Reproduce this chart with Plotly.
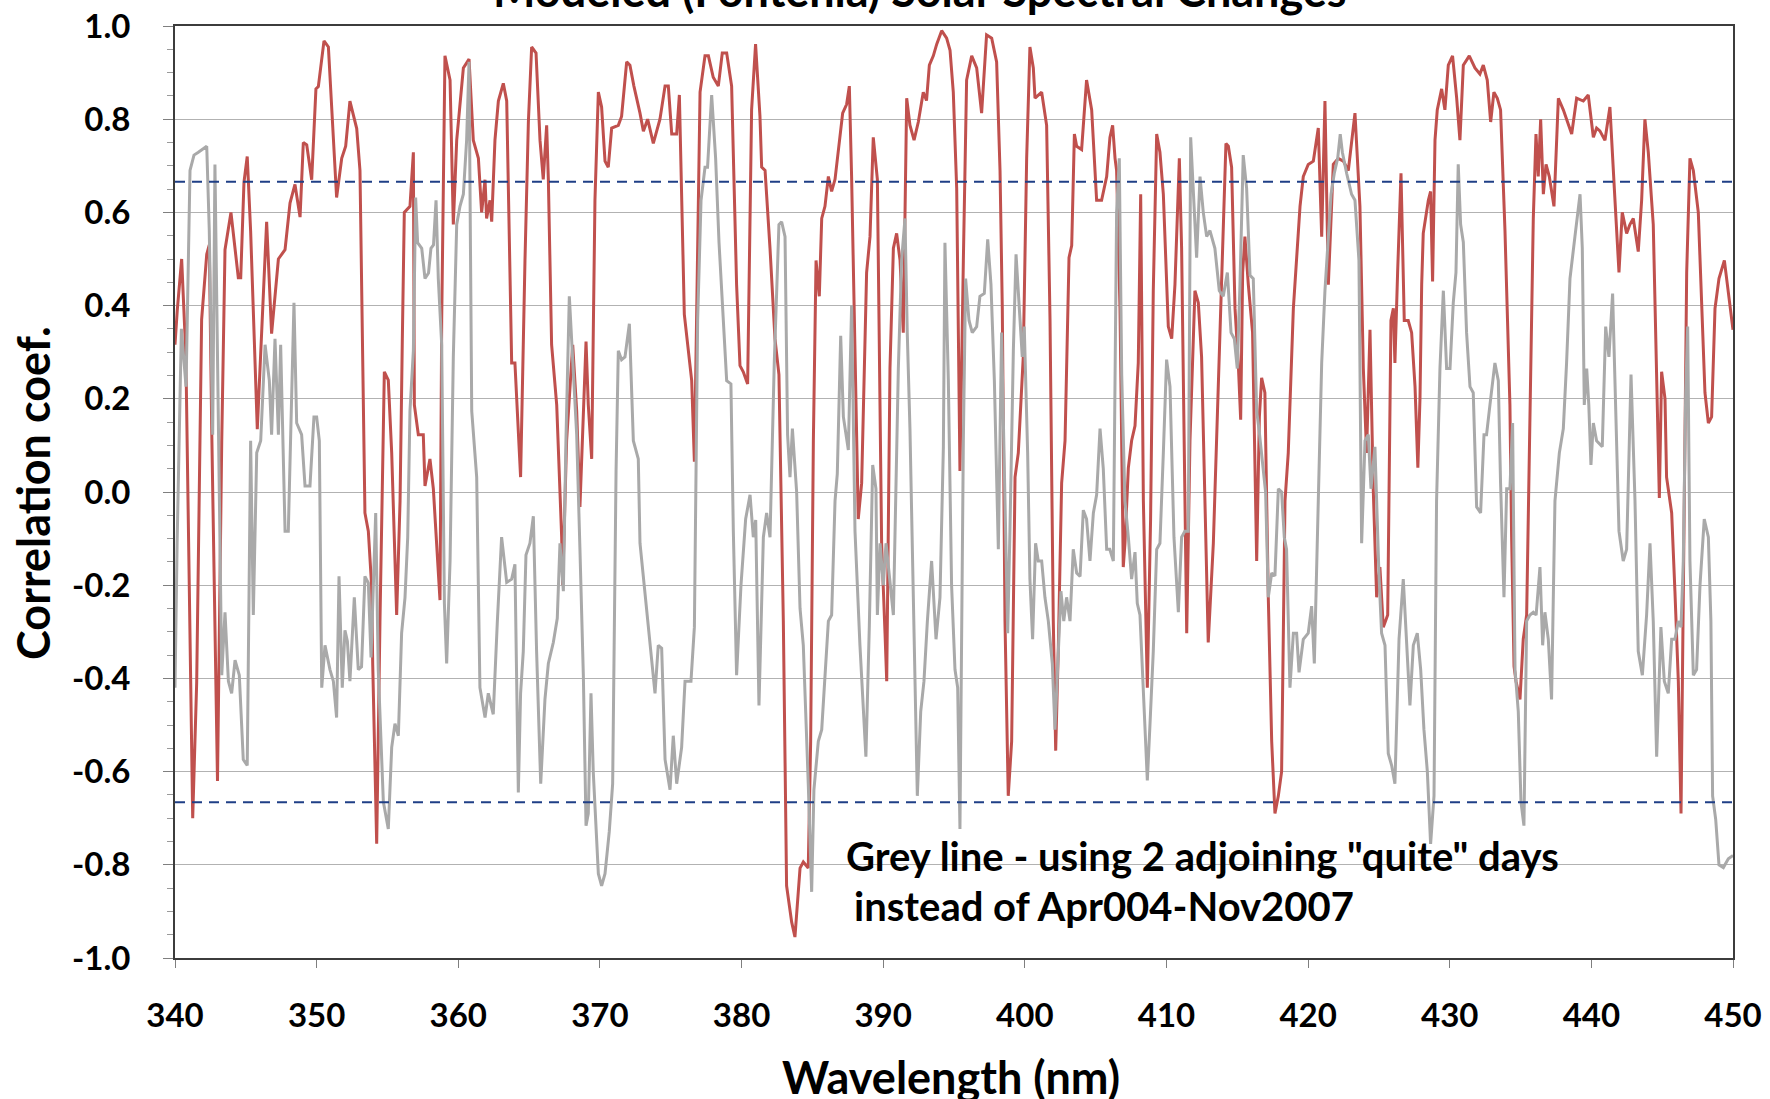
import plotly.graph_objects as go

# Correlation coefficient vs wavelength: (wavelength nm, r) pairs
RED_POINTS = [
    (340.0, 0.316), (340.16, 0.39), (340.47, 0.50), (340.7, 0.34), (340.8, 0.226),
    (341.25, -0.70), (341.53, -0.41), (341.88, 0.37), (342.24, 0.51), (342.42, 0.53),
    (342.6, 0.12), (343.0, -0.62), (343.3, 0.11), (343.53, 0.52), (343.95, 0.60),
    (344.47, 0.46), (344.64, 0.46), (344.87, 0.665), (345.1, 0.72), (345.34, 0.56),
    (345.81, 0.135), (346.47, 0.58), (346.82, 0.34), (347.3, 0.50), (347.77, 0.52),
    (348.12, 0.62), (348.47, 0.66), (348.83, 0.59), (349.06, 0.75), (349.3, 0.745),
    (349.65, 0.67), (349.95, 0.865), (350.12, 0.87), (350.52, 0.968), (350.83, 0.955),
    (351.06, 0.82), (351.41, 0.632), (351.77, 0.716), (352.05, 0.742), (352.35, 0.839),
    (352.83, 0.78), (353.06, 0.69), (353.41, -0.045), (353.65, -0.084), (353.88, -0.20),
    (353.96, -0.37), (354.24, -0.755), (354.47, -0.28), (354.78, 0.258), (355.06, 0.24),
    (355.3, 0.084), (355.65, -0.264), (355.89, -0.019), (356.05, 0.329), (356.19, 0.60),
    (356.59, 0.613), (356.83, 0.729), (356.9, 0.187), (357.18, 0.123), (357.53, 0.123),
    (357.65, 0.013), (358.0, 0.071), (358.24, 0.007), (358.71, -0.232), (358.83, 0.368),
    (359.06, 0.936), (359.42, 0.884), (359.65, 0.574), (359.89, 0.755), (360.36, 0.91),
    (360.76, 0.929), (361.06, 0.755), (361.42, 0.716), (361.65, 0.60), (361.89, 0.67),
    (362.0, 0.587), (362.24, 0.626), (362.36, 0.58), (362.59, 0.755), (362.83, 0.839),
    (363.18, 0.877), (363.42, 0.839), (363.77, 0.277), (364.0, 0.277), (364.4, 0.032),
    (364.71, 0.497), (364.95, 0.794), (365.18, 0.955), (365.49, 0.942), (365.77, 0.755),
    (366.0, 0.671), (366.24, 0.787), (366.36, 0.671), (366.59, 0.316), (366.95, 0.187),
    (367.3, -0.097), (367.37, -0.20), (367.65, 0.11), (368.08, 0.316), (368.36, 0.174),
    (368.59, -0.032), (369.02, 0.323), (369.18, 0.187), (369.42, 0.071), (369.65, 0.626),
    (369.89, 0.858), (370.12, 0.826), (370.36, 0.71), (370.59, 0.697), (370.83, 0.781),
    (371.3, 0.787), (371.53, 0.806), (371.89, 0.923), (372.12, 0.916), (372.4, 0.871),
    (372.83, 0.813), (373.07, 0.774), (373.37, 0.80), (373.77, 0.748), (374.24, 0.80),
    (374.6, 0.871), (374.83, 0.871), (375.07, 0.768), (375.42, 0.768), (375.61, 0.852),
    (375.96, 0.381), (376.29, 0.29), (376.48, 0.239), (376.67, 0.065), (377.07, 0.858),
    (377.42, 0.936), (377.66, 0.936), (378.0, 0.89), (378.36, 0.871), (378.64, 0.942),
    (378.95, 0.942), (379.3, 0.871), (379.65, 0.445), (379.89, 0.271), (380.12, 0.258),
    (380.43, 0.232), (380.71, 0.82), (380.99, 0.961), (381.3, 0.806), (381.42, 0.697),
    (381.66, 0.69), (382.01, 0.523), (382.36, 0.329), (382.64, 0.252), (382.95, -0.277),
    (383.18, -0.845), (383.54, -0.923), (383.77, -0.955), (384.13, -0.807), (384.36, -0.794),
    (384.71, -0.807), (384.88, -0.535), (385.07, 0.11), (385.26, 0.497), (385.49, 0.42),
    (385.66, 0.587), (385.89, 0.613), (386.13, 0.677), (386.36, 0.645), (386.6, 0.671),
    (386.9, 0.755), (387.14, 0.813), (387.42, 0.832), (387.61, 0.871), (387.77, 0.677),
    (388.24, -0.058), (388.48, 0.019), (388.83, 0.471), (389.07, 0.548), (389.3, 0.761),
    (389.59, 0.671), (389.89, -0.11), (390.13, -0.303), (390.25, -0.406), (390.48, 0.265),
    (390.72, 0.523), (390.95, 0.555), (391.19, 0.497), (391.42, 0.342), (391.66, 0.845),
    (391.89, 0.787), (392.18, 0.755), (392.48, 0.794), (392.83, 0.858), (393.06, 0.84),
    (393.26, 0.916), (393.54, 0.936), (393.78, 0.961), (394.13, 0.99), (394.48, 0.974),
    (394.72, 0.948), (394.95, 0.858), (395.19, 0.652), (395.42, 0.045), (395.66, 0.497),
    (395.89, 0.884), (396.25, 0.936), (396.6, 0.91), (396.95, 0.813), (397.3, 0.981),
    (397.66, 0.974), (398.01, 0.923), (398.25, 0.69), (398.41, 0.394), (398.6, -0.277),
    (398.83, -0.652), (399.07, -0.535), (399.31, 0.032), (399.54, 0.084), (399.89, 0.29),
    (400.13, 0.716), (400.36, 0.955), (400.6, 0.91), (400.72, 0.845), (401.19, 0.858),
    (401.54, 0.787), (401.78, 0.368), (402.01, -0.277), (402.18, -0.555), (402.36, -0.342),
    (402.6, 0.019), (402.84, 0.11), (403.12, 0.503), (403.31, 0.529), (403.5, 0.768),
    (403.66, 0.742), (404.01, 0.735), (404.36, 0.884), (404.72, 0.82), (405.07, 0.626),
    (405.42, 0.626), (405.78, 0.677), (406.01, 0.761), (406.2, 0.787), (406.37, 0.716),
    (406.48, 0.69), (406.72, 0.394), (406.95, -0.161), (407.07, -0.11), (407.31, 0.052),
    (407.54, 0.11), (407.78, 0.142), (408.01, 0.277), (408.18, 0.639), (408.37, -0.019),
    (408.65, -0.42), (408.88, -0.058), (409.07, 0.432), (409.31, 0.768), (409.54, 0.729),
    (409.78, 0.639), (410.13, 0.355), (410.37, 0.329), (410.6, 0.445), (410.91, 0.716),
    (411.07, 0.523), (411.43, -0.303), (411.66, 0.11), (412.01, 0.432), (412.25, 0.406),
    (412.48, 0.29), (412.72, -0.019), (412.95, -0.323), (413.31, -0.11), (413.54, 0.11),
    (413.78, 0.381), (414.01, 0.587), (414.2, 0.748), (414.37, 0.742), (414.6, 0.697),
    (414.84, 0.394), (415.07, 0.277), (415.24, 0.155), (415.38, 0.471), (415.54, 0.548),
    (415.78, 0.445), (416.08, 0.342), (416.37, -0.148), (416.56, 0.161), (416.72, 0.245),
    (416.95, 0.213), (417.19, -0.226), (417.43, -0.535), (417.66, -0.69), (417.9, -0.652),
    (418.13, -0.6), (418.37, -0.019), (418.6, 0.084), (418.96, 0.394), (419.19, 0.503),
    (419.43, 0.613), (419.66, 0.677), (420.01, 0.703), (420.37, 0.71), (420.72, 0.781),
    (420.96, 0.548), (421.19, 0.839), (421.43, 0.445), (421.78, 0.703), (422.13, 0.716),
    (422.49, 0.71), (422.84, 0.69), (423.31, 0.813), (423.66, 0.613), (423.9, 0.265),
    (424.13, 0.084), (424.37, 0.348), (424.6, 0.007), (424.84, -0.226), (425.07, -0.161),
    (425.31, -0.29), (425.62, -0.264), (425.85, 0.368), (426.02, 0.394), (426.13, 0.277),
    (426.32, 0.471), (426.56, 0.684), (426.79, 0.368), (427.07, 0.368), (427.31, 0.342),
    (427.55, 0.226), (427.75, 0.052), (427.9, 0.2), (428.02, 0.445), (428.13, 0.555),
    (428.49, 0.626), (428.65, 0.645), (428.79, 0.452), (428.96, 0.755), (429.12, 0.82),
    (429.43, 0.865), (429.66, 0.82), (429.9, 0.916), (430.2, 0.936), (430.49, 0.845),
    (430.72, 0.755), (430.96, 0.916), (431.38, 0.936), (431.78, 0.91), (432.13, 0.897),
    (432.37, 0.916), (432.65, 0.884), (432.89, 0.794), (433.12, 0.858), (433.36, 0.845),
    (433.59, 0.82), (433.9, 0.561), (434.25, 0.187), (434.37, -0.097), (434.54, -0.374),
    (434.68, -0.406), (434.96, -0.445), (435.19, -0.316), (435.43, -0.264), (435.62, 0.11),
    (435.9, 0.587), (436.09, 0.768), (436.25, 0.677), (436.42, 0.80), (436.61, 0.639),
    (436.8, 0.703), (437.03, 0.677), (437.36, 0.613), (437.67, 0.845), (438.02, 0.82),
    (438.37, 0.787), (438.61, 0.768), (438.96, 0.845), (439.43, 0.839), (439.78, 0.852),
    (440.14, 0.761), (440.37, 0.781), (440.6, 0.775), (440.96, 0.755), (441.31, 0.826),
    (441.62, 0.652), (441.95, 0.471), (442.18, 0.6), (442.49, 0.555), (442.72, 0.574),
    (442.96, 0.587), (443.31, 0.516), (443.55, 0.626), (443.78, 0.8), (444.02, 0.729),
    (444.37, 0.574), (444.61, 0.226), (444.8, -0.013), (444.96, 0.258), (445.2, 0.2),
    (445.31, 0.032), (445.67, -0.045), (445.9, -0.213), (446.14, -0.406), (446.33, -0.69),
    (446.49, -0.277), (446.73, 0.471), (446.96, 0.716), (447.2, 0.69), (447.55, 0.6),
    (447.79, 0.394), (448.02, 0.213), (448.26, 0.148), (448.49, 0.161), (448.73, 0.394),
    (449.01, 0.458), (449.39, 0.497), (449.67, 0.432), (450.0, 0.348),
]

GREY_POINTS = [
    (340.0, -0.42), (340.15, -0.11), (340.45, 0.35), (340.78, 0.226), (341.06, 0.69),
    (341.34, 0.723), (341.65, 0.729), (341.9, 0.735), (342.24, 0.742), (342.42, 0.561),
    (342.66, 0.123), (342.82, 0.703), (343.06, 0.11), (343.3, -0.393), (343.53, -0.258),
    (343.77, -0.406), (344.0, -0.432), (344.24, -0.361), (344.54, -0.393), (344.82, -0.574),
    (345.1, -0.587), (345.34, 0.11), (345.53, -0.264), (345.77, 0.084), (346.05, 0.11),
    (346.36, 0.316), (346.66, 0.239), (346.82, 0.123), (347.06, 0.329), (347.3, 0.123),
    (347.46, 0.316), (347.77, -0.084), (348.0, -0.084), (348.24, 0.213), (348.4, 0.406),
    (348.59, 0.148), (348.94, 0.123), (349.18, 0.013), (349.53, 0.013), (349.81, 0.161),
    (350.0, 0.161), (350.19, 0.11), (350.36, -0.42), (350.59, -0.329), (350.94, -0.381),
    (351.18, -0.406), (351.41, -0.484), (351.58, -0.181), (351.81, -0.42), (352.0, -0.297),
    (352.17, -0.32), (352.35, -0.406), (352.66, -0.226), (352.94, -0.381), (353.17, -0.375),
    (353.41, -0.181), (353.65, -0.195), (353.84, -0.355), (354.17, -0.045), (354.35, -0.381),
    (354.71, -0.665), (355.06, -0.723), (355.3, -0.548), (355.53, -0.497), (355.77, -0.523),
    (356.0, -0.303), (356.24, -0.226), (356.43, -0.097), (356.59, 0.174), (356.83, 0.303),
    (356.99, 0.632), (357.13, 0.535), (357.42, 0.523), (357.65, 0.458), (357.9, 0.47),
    (358.07, 0.523), (358.25, 0.53), (358.43, 0.626), (358.59, 0.458), (358.83, 0.316),
    (359.02, -0.239), (359.18, -0.368), (359.42, -0.148), (359.65, 0.29), (359.89, 0.574),
    (360.12, 0.613), (360.36, 0.639), (360.59, 0.755), (360.76, 0.923), (360.95, 0.174),
    (361.3, 0.032), (361.53, -0.42), (361.89, -0.484), (362.12, -0.432), (362.47, -0.477),
    (362.76, -0.277), (363.06, -0.097), (363.42, -0.194), (363.77, -0.187), (364.0, -0.155),
    (364.24, -0.645), (364.4, -0.432), (364.59, -0.342), (364.78, -0.135), (365.06, -0.11),
    (365.3, -0.052), (365.53, -0.342), (365.82, -0.626), (366.12, -0.445), (366.36, -0.368),
    (366.71, -0.323), (366.99, -0.271), (367.18, -0.11), (367.42, -0.213), (367.6, 0.11),
    (367.84, 0.42), (368.08, 0.29), (368.36, 0.123), (368.59, -0.123), (368.83, -0.393),
    (369.02, -0.716), (369.18, -0.69), (369.37, -0.432), (369.53, -0.6), (369.89, -0.819),
    (370.12, -0.845), (370.36, -0.819), (370.66, -0.729), (370.9, -0.626), (371.14, 0.045),
    (371.3, 0.303), (371.53, 0.284), (371.77, 0.29), (372.08, 0.361), (372.36, 0.11),
    (372.71, 0.071), (372.83, -0.11), (373.18, -0.213), (373.54, -0.316), (373.89, -0.432),
    (374.12, -0.329), (374.36, -0.335), (374.6, -0.574), (374.95, -0.639), (375.18, -0.523),
    (375.42, -0.626), (375.77, -0.548), (376.01, -0.406), (376.43, -0.406), (376.67, -0.29),
    (376.9, 0.368), (377.14, 0.626), (377.42, 0.697), (377.6, 0.697), (377.89, 0.852),
    (378.17, 0.716), (378.41, 0.535), (378.64, 0.406), (378.95, 0.239), (379.25, 0.232),
    (379.42, -0.084), (379.65, -0.393), (379.96, -0.2), (380.29, -0.058), (380.6, -0.006),
    (380.83, -0.097), (381.0, -0.06), (381.23, -0.458), (381.54, -0.097), (381.77, -0.045),
    (382.01, -0.097), (382.31, 0.277), (382.64, 0.574), (382.83, 0.58), (383.07, 0.548),
    (383.25, 0.123), (383.42, 0.032), (383.59, 0.136), (383.89, 0.0), (384.13, -0.25),
    (384.36, -0.329), (384.71, -0.626), (384.95, -0.858), (385.11, -0.639), (385.42, -0.535),
    (385.66, -0.51), (385.89, -0.406), (386.13, -0.277), (386.36, -0.264), (386.6, -0.019),
    (386.76, 0.039), (387.0, 0.335), (387.19, 0.161), (387.54, 0.09), (387.77, 0.4),
    (388.01, -0.084), (388.36, -0.329), (388.78, -0.568), (389.02, -0.29), (389.26, 0.058),
    (389.49, 0.007), (389.59, -0.264), (389.78, -0.11), (390.01, -0.2), (390.2, -0.11),
    (390.48, -0.2), (390.72, -0.264), (391.07, 0.265), (391.3, 0.497), (391.54, 0.587),
    (391.7, 0.342), (391.89, 0.136), (392.13, -0.2), (392.41, -0.652), (392.65, -0.471),
    (392.88, -0.406), (393.12, -0.277), (393.42, -0.148), (393.73, -0.316), (394.01, -0.226),
    (394.25, 0.097), (394.36, 0.535), (394.6, 0.24), (394.83, -0.2), (395.07, -0.381),
    (395.26, -0.42), (395.42, -0.723), (395.66, 0.11), (395.82, 0.458), (396.06, 0.368),
    (396.29, 0.342), (396.6, 0.355), (396.83, 0.42), (397.14, 0.426), (397.38, 0.542),
    (397.61, 0.445), (397.85, 0.239), (398.13, -0.123), (398.36, 0.342), (398.55, 0.019),
    (398.79, -0.303), (398.95, -0.084), (399.19, 0.303), (399.38, 0.51), (399.59, 0.406),
    (399.82, 0.29), (399.96, 0.355), (400.2, 0.084), (400.36, -0.187), (400.55, -0.316),
    (400.76, -0.11), (400.95, -0.148), (401.19, -0.148), (401.42, -0.226), (401.66, -0.277),
    (401.94, -0.368), (402.13, -0.51), (402.36, -0.342), (402.55, -0.213), (402.75, -0.277),
    (402.95, -0.226), (403.19, -0.277), (403.42, -0.123), (403.66, -0.174), (403.9, -0.181),
    (404.13, -0.039), (404.36, -0.058), (404.6, -0.148), (404.84, -0.045), (405.07, -0.006),
    (405.31, 0.136), (405.54, 0.05), (405.78, -0.123), (406.0, -0.123), (406.25, -0.148),
    (406.48, 0.6), (406.67, 0.716), (406.84, 0.252), (407.07, -0.019), (407.31, -0.097),
    (407.54, -0.187), (407.78, -0.129), (407.94, -0.239), (408.13, -0.264), (408.37, -0.432),
    (408.65, -0.619), (408.84, -0.497), (409.07, -0.342), (409.31, -0.123), (409.54, -0.11),
    (409.78, 0.084), (410.01, 0.284), (410.25, 0.226), (410.53, -0.097), (410.84, -0.258),
    (411.07, -0.097), (411.3, -0.084), (411.54, -0.084), (411.71, 0.761), (411.94, 0.6),
    (412.13, 0.503), (412.37, 0.677), (412.6, 0.6), (412.84, 0.548), (413.07, 0.561),
    (413.42, 0.523), (413.73, 0.432), (414.01, 0.42), (414.3, 0.471), (414.56, 0.342),
    (414.79, 0.329), (415.0, 0.265), (415.19, 0.445), (415.42, 0.723), (415.66, 0.652),
    (415.9, 0.465), (416.13, 0.458), (416.37, 0.174), (416.55, 0.13), (417.0, 0.0),
    (417.19, -0.226), (417.43, -0.174), (417.66, -0.18), (417.9, 0.007), (418.13, 0.0),
    (418.32, -0.097), (418.48, -0.123), (418.72, -0.42), (418.96, -0.303), (419.19, -0.303),
    (419.36, -0.387), (419.66, -0.316), (420.01, -0.303), (420.25, -0.245), (420.44, -0.368),
    (420.72, -0.019), (420.96, 0.277), (421.19, 0.432), (421.38, 0.523), (421.62, 0.639),
    (421.85, 0.684), (422.09, 0.716), (422.27, 0.768), (422.42, 0.729), (422.72, 0.684),
    (423.07, 0.639), (423.31, 0.626), (423.59, 0.497), (423.78, -0.11), (424.02, 0.11),
    (424.25, 0.123), (424.44, 0.007), (424.72, 0.097), (425.0, -0.174), (425.19, -0.303),
    (425.43, -0.329), (425.66, -0.561), (425.9, -0.587), (426.13, -0.626), (426.42, -0.316),
    (426.72, -0.187), (426.96, -0.342), (427.19, -0.458), (427.43, -0.329), (427.71, -0.303),
    (427.95, -0.381), (428.18, -0.51), (428.42, -0.6), (428.65, -0.755), (428.89, -0.652),
    (429.07, -0.019), (429.31, 0.265), (429.55, 0.432), (429.78, 0.265), (430.02, 0.265),
    (430.25, 0.406), (430.44, 0.471), (430.6, 0.703), (430.77, 0.574), (430.96, 0.536),
    (431.19, 0.342), (431.43, 0.226), (431.66, 0.213), (431.9, -0.032), (432.18, -0.045),
    (432.42, 0.123), (432.6, 0.123), (432.84, 0.187), (433.19, 0.277), (433.43, 0.239),
    (433.59, 0.019), (433.83, -0.226), (434.02, 0.007), (434.25, 0.007), (434.44, 0.148),
    (434.61, -0.381), (434.84, -0.471), (435.03, -0.665), (435.24, -0.716), (435.43, -0.277),
    (435.66, -0.264), (435.9, -0.258), (436.1, -0.264), (436.37, -0.161), (436.56, -0.329),
    (436.72, -0.258), (436.96, -0.316), (437.19, -0.445), (437.43, -0.019), (437.74, 0.084),
    (438.02, 0.136), (438.25, 0.277), (438.49, 0.458), (438.84, 0.548), (439.2, 0.639),
    (439.36, 0.523), (439.5, 0.187), (439.67, 0.265), (439.82, 0.187), (439.97, 0.058),
    (440.14, 0.148), (440.37, 0.11), (440.77, 0.097), (441.01, 0.355), (441.24, 0.29),
    (441.5, 0.426), (441.71, 0.187), (441.95, -0.084), (442.25, -0.148), (442.49, -0.123),
    (442.8, 0.252), (443.08, -0.019), (443.31, -0.342), (443.6, -0.393), (443.9, -0.264),
    (444.14, -0.11), (444.37, -0.277), (444.61, -0.568), (444.91, -0.29), (445.15, -0.406),
    (445.43, -0.432), (445.67, -0.316), (445.9, -0.316), (446.14, -0.277), (446.33, -0.29),
    (446.49, -0.148), (446.66, 0.213), (446.8, 0.355), (446.96, -0.148), (447.2, -0.393),
    (447.43, -0.381), (447.67, -0.2), (447.97, -0.058), (448.26, -0.097), (448.44, -0.277),
    (448.56, -0.652), (448.78, -0.703), (449.01, -0.8), (449.32, -0.806), (449.67, -0.787),
    (450.0, -0.78),
]

SIGNIFICANCE = 0.666          # |r| threshold drawn as dashed lines
X_TICKS = list(range(340, 451, 10))
Y_TICKS = [-1.0, -0.8, -0.6, -0.4, -0.2, 0.0, 0.2, 0.4, 0.6, 0.8, 1.0]
Y_TICK_LABELS = [f"{v:.1f}" for v in Y_TICKS]   # plain hyphen for negatives

TITLE = "Modeled (Fontenla) Solar Spectral Changes"
X_TITLE = "Wavelength (nm)"
Y_TITLE = "Correlation coef."
NOTE_1 = 'Grey line - using 2 adjoining "quite" days'
NOTE_2 = "instead of Apr004-Nov2007"

red_nm, red_r = zip(*RED_POINTS)
grey_nm, grey_r = zip(*GREY_POINTS)

FONT = "Lato"
W, H = 1770, 1099
L, R, T, B = 175, 37, 26, 141
PW, PH = W - L - R, H - T - B

fig = go.Figure()
fig.add_trace(go.Scatter(x=red_nm, y=red_r, mode="lines",
                         line=dict(color="#C0504D", width=3), showlegend=False))
fig.add_trace(go.Scatter(x=grey_nm, y=grey_r, mode="lines",
                         line=dict(color="#A9A9A9", width=3), showlegend=False))

for level in (SIGNIFICANCE, -SIGNIFICANCE):
    fig.add_shape(type="line", xref="paper", x0=0, x1=1, yref="y", y0=level, y1=level,
                  line=dict(color="#1F3F86", width=2, dash="10px,7px"), layer="above")

bold = dict(family=FONT, color="black", weight="bold")

fig.add_annotation(text=TITLE, xref="paper", yref="paper",
                   x=(920 - L) / PW, y=1 + (T + 10) / PH, xanchor="center", yanchor="middle",
                   showarrow=False, font=dict(size=45, **bold))
fig.add_annotation(text=X_TITLE, xref="paper", yref="paper",
                   x=(951 - L) / PW, y=-(1077 - (T + PH)) / PH, xanchor="center", yanchor="middle",
                   showarrow=False, font=dict(size=45, **bold))
fig.add_annotation(text=Y_TITLE, xref="paper", yref="paper", textangle=-90,
                   x=(33 - L) / PW, y=(T + PH - 493) / PH, xanchor="center", yanchor="middle",
                   showarrow=False, font=dict(size=45, **bold))
fig.add_annotation(text=NOTE_1, xref="paper", yref="paper",
                   x=(844 - L) / PW, y=(T + PH - 856) / PH, xanchor="left", yanchor="middle",
                   showarrow=False, font=dict(size=40, **bold))
fig.add_annotation(text=NOTE_2, xref="paper", yref="paper",
                   x=(852 - L) / PW, y=(T + PH - 906) / PH, xanchor="left", yanchor="middle",
                   showarrow=False, font=dict(size=40, **bold))

fig.update_layout(
    width=W, height=H,
    margin=dict(l=L, r=R, t=T, b=B, pad=0, autoexpand=False),
    paper_bgcolor="white", plot_bgcolor="white",
    font=dict(family=FONT, size=32, color="black"),
)
fig.update_xaxes(
    range=[340, 450], tickvals=X_TICKS, showgrid=False, zeroline=False, automargin=False,
    showline=True, mirror=True, linecolor="#3C3C3C", linewidth=2,
    ticks="outside", ticklen=8, tickcolor="#7F7F7F", ticklabelstandoff=19,
    tickfont=dict(size=33, **bold),
)
fig.update_yaxes(
    range=[-1, 1], tickvals=Y_TICKS, ticktext=Y_TICK_LABELS, showgrid=True, automargin=False,
    gridcolor="#B2B2B2", gridwidth=1, zeroline=False,
    showline=True, mirror=True, linecolor="#3C3C3C", linewidth=2,
    ticks="outside", ticklen=10, tickcolor="#7F7F7F", ticklabelstandoff=26,
    minor=dict(dtick=0.05, ticks="outside", ticklen=6, tickcolor="#9A9A9A", showgrid=False),
    tickfont=dict(size=33, **bold),
)

fig.write_html("out.html")
